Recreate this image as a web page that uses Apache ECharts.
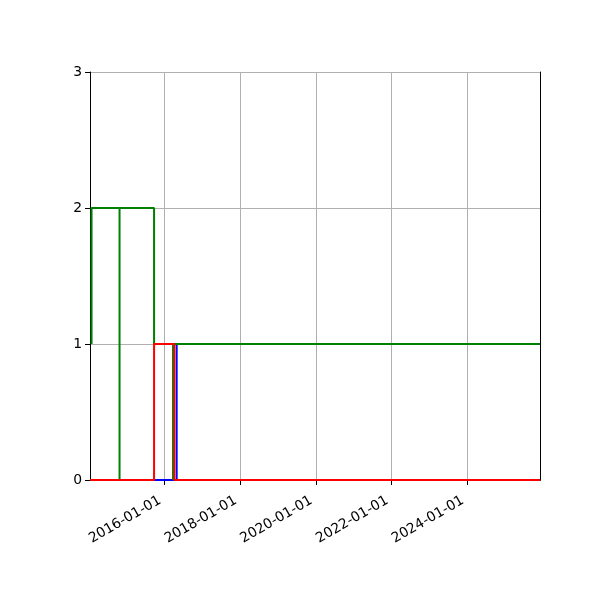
<!DOCTYPE html>
<html>
<head>
<meta charset="utf-8">
<script src="https://cdn.jsdelivr.net/npm/echarts@6/dist/echarts.min.js"></script>
<style>
html,body{margin:0;padding:0;background:#fff;}
#c{width:600px;height:600px;}
</style>
</head>
<body>
<div id="c"></div>
<script>
// ---- data ----
const xMin = '2014-01-14';
const xMax = '2025-12-03';
const xTickLabels = ['2016-01-01', '2018-01-01', '2020-01-01', '2022-01-01', '2024-01-01'];
const yTicks = [0, 1, 2, 3];

const greenDates = ['2014-01-29', '2014-01-29', '2014-10-26', '2014-10-26', '2015-09-24', '2016-03-25', '2016-03-25', '2025-12-03'];
const greenValues = [1, 2, 0, 2, 1, 0, 1, 1];

const redDates = ['2014-01-14', '2015-09-24', '2016-04-07', '2025-12-03'];
const redValues = [0, 1, 0, 0];

const blueDates = ['2014-01-14', '2016-04-29', '2025-12-03'];
const blueValues = [0, 1, 1];

// ---- chart ----
function ts(s) { const p = s.split('-').map(Number); return new Date(p[0], p[1] - 1, p[2]).getTime(); }
function pair(ds, vs) { return ds.map((d, i) => [ts(d), vs[i]]); }
function pad(n) { return (n < 10 ? '0' : '') + n; }
function fmt(v) { const d = new Date(v); return d.getFullYear() + '-' + pad(d.getMonth() + 1) + '-' + pad(d.getDate()); }

const labelSet = new Set(xTickLabels);
const font = 'DejaVu Sans';
const frameLine = { show: true, lineStyle: { color: '#000', width: 1 } };

const chart = echarts.init(document.getElementById('c'), null, { renderer: 'canvas' });
chart.setOption({
  animation: false,
  backgroundColor: '#ffffff',
  grid: { left: 90, right: 60, top: 72, bottom: 120 },
  xAxis: [{
    type: 'time',
    min: ts(xMin), max: ts(xMax),
    splitNumber: 5,
    axisLine: frameLine,
    axisTick: { show: true, length: 5, lineStyle: { color: '#000', width: 1 } },
    axisLabel: {
      formatter: function (v) { const s = fmt(v); return labelSet.has(s) ? s : ''; },
      showMinLabel: false, showMaxLabel: false,
      rotate: 30, fontSize: 13.9, color: '#000', fontFamily: font, margin: 17,
      padding: [0, 5, 0, 0]
    },
    splitLine: { show: true, lineStyle: { color: '#b0b0b0', width: 1 } },
    minorTick: { show: false }
  }, {
    type: 'time', position: 'top',
    min: ts(xMin), max: ts(xMax),
    axisLine: frameLine, axisTick: { show: false }, axisLabel: { show: false }, splitLine: { show: false }
  }],
  yAxis: [{
    type: 'value', min: yTicks[0], max: yTicks[yTicks.length - 1], interval: 1,
    axisLine: frameLine,
    axisTick: { show: true, length: 5, lineStyle: { color: '#000', width: 1 } },
    axisLabel: { fontSize: 13.9, color: '#000', fontFamily: font, margin: 8 },
    splitLine: { show: true, lineStyle: { color: '#b0b0b0', width: 1 } }
  }, {
    type: 'value', position: 'right', min: yTicks[0], max: yTicks[yTicks.length - 1], interval: 1,
    axisLine: frameLine, axisTick: { show: false }, axisLabel: { show: false }, splitLine: { show: false }
  }],
  series: [
    { type: 'line', step: 'end', xAxisIndex: 0, yAxisIndex: 0, data: pair(blueDates, blueValues), showSymbol: false, lineStyle: { color: '#0000ff', width: 2 }, itemStyle: { color: '#0000ff' } },
    { type: 'line', step: 'end', xAxisIndex: 0, yAxisIndex: 0, data: pair(greenDates, greenValues), showSymbol: false, lineStyle: { color: '#008000', width: 2 }, itemStyle: { color: '#008000' } },
    { type: 'line', step: 'end', xAxisIndex: 0, yAxisIndex: 0, data: pair(redDates, redValues), showSymbol: false, lineStyle: { color: '#ff0000', width: 2 }, itemStyle: { color: '#ff0000' } }
  ]
});
</script>
</body>
</html>
